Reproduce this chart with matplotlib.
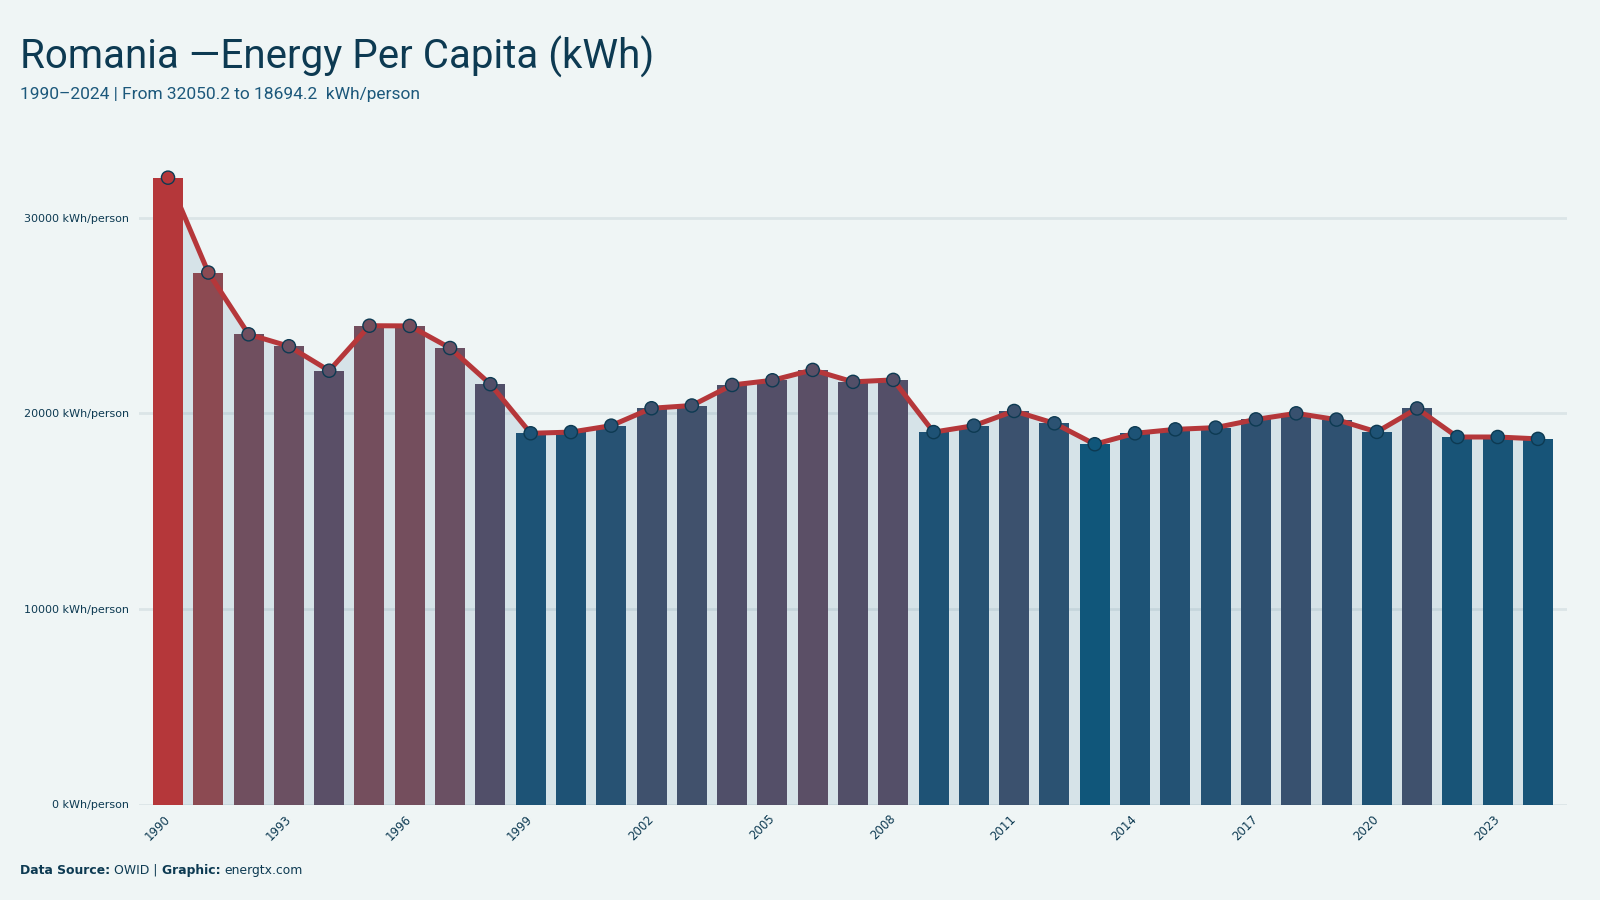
#!/usr/bin/env python3
"""
Romania - energy per capita, bars + line
"""

import numpy as np
import matplotlib
matplotlib.use("Agg")
import matplotlib.pyplot as plt
from matplotlib.colors import LinearSegmentedColormap, Normalize
from matplotlib import font_manager

# ── data ──────────────────────────────────────────────────
years = list(range(1990, 2025))
kwh_per_person = [
    32050.2, 27200, 24040, 23430, 22180, 24480, 24470, 23340, 21490, 18980,
    19040, 19370, 20260, 20400, 21450, 21690, 22220, 21610, 21710, 19040,
    19370, 20120, 19490, 18420, 18980, 19180, 19270, 19690, 20000, 19680,
    19050, 20250, 18790, 18790, 18694.2,
]
y_ticks = [0, 10000, 20000, 30000]
x_tick_years = years[::3]

# ── colours ───────────────────────────────────────────────
BG      = "#eff5f5"
C_TEXT  = "#0d3a52"
C_SUB   = "#1c587b"
C_LINE  = "#b5373a"
C_FILL  = "#d6e3e8"
CMAP = LinearSegmentedColormap.from_list("energ", [
    (0.00, "#10567a"), (0.045, "#1f5275"), (0.13, "#3e516d"),
    (0.24, "#544f68"), (0.36, "#6a5063"), (0.44, "#744e5d"),
    (0.645, "#8c4a52"), (1.00, "#b5373a"),
])


def pick_font(names):
    avail = {f.name for f in font_manager.fontManager.ttflist}
    for n in names:
        if n in avail:
            return n
    return "DejaVu Sans"


TITLE_FONT = pick_font(["Liberation Sans Narrow", "Roboto", "Noto Sans"])

plt.rcParams["font.family"] = ["DejaVu Sans"]

x = np.arange(len(years))
vals = np.array(kwh_per_person)
norm = Normalize(vals.min(), vals.max())
bar_cols = CMAP(norm(vals))

fig = plt.figure(figsize=(16, 9), dpi=100, facecolor=BG)
ax = fig.add_axes([139 / 1600, (900 - 804.5) / 900, 1428 / 1600, 655.2 / 900])
ax.set_facecolor(BG)

# area under the line
ax.fill_between(x, 0, vals, color=C_FILL, lw=0, zorder=1)

# grid
for t in y_ticks:
    ax.axhline(t, color="#6a8a9a", alpha=0.15, lw=2, zorder=1.5)

ax.bar(x, vals, width=0.745, color=bar_cols, lw=0, zorder=2)
ax.plot(x, vals, color=C_LINE, lw=3.6, zorder=3, solid_joinstyle="round")
ax.scatter(x, vals, s=90, c=bar_cols, edgecolors=C_TEXT, linewidths=1.0, zorder=4)

ax.set_xlim(-0.72, len(years) - 1 + 0.72)
ax.set_ylim(0, 33500)

ax.set_yticks(y_ticks)
ax.set_yticklabels([f"{t} kWh/person" for t in y_ticks])
ax.set_xticks([years.index(yr) for yr in x_tick_years])
ax.set_xticklabels([str(yr) for yr in x_tick_years], rotation=45,
                   ha="right", va="center", rotation_mode="anchor")
ax.tick_params(axis="y", length=0, pad=7, labelsize=8, labelcolor=C_TEXT)
ax.tick_params(axis="x", length=0, pad=9, labelsize=8.5, labelcolor=C_TEXT)

for s in ax.spines.values():
    s.set_visible(False)

# ── titles ────────────────────────────────────────────────
fig.text(20 / 1600, 1 - 69 / 900, "Romania \u2014Energy Per Capita (kWh)",
         fontsize=29, color=C_TEXT, family=[TITLE_FONT, "DejaVu Sans"],
         va="baseline", ha="left")
fig.text(20 / 1600, 1 - 99 / 900,
         "1990\u20132024 | From 32050.2 to 18694.2  kWh/person",
         fontsize=12.5, color=C_SUB, family=[TITLE_FONT, "DejaVu Sans"],
         va="baseline", ha="left")

# ── footer (bold/regular pieces chained) ──────────────────
parts = [("Data Source: ", "bold"), ("OWID | ", "normal"),
         ("Graphic: ", "bold"), ("energtx.com", "normal")]
anchor = fig.text(20 / 1600, 1 - 874 / 900, parts[0][0], fontsize=8.9,
                  fontweight=parts[0][1], color=C_TEXT, va="baseline")
for txt, w in parts[1:]:
    anchor = ax.annotate(txt, xy=(1, 0), xycoords=anchor, fontsize=8.9,
                         fontweight=w, color=C_TEXT, va="bottom", ha="left",
                         annotation_clip=False)

fig.savefig("out.png", dpi=100, facecolor=BG)
